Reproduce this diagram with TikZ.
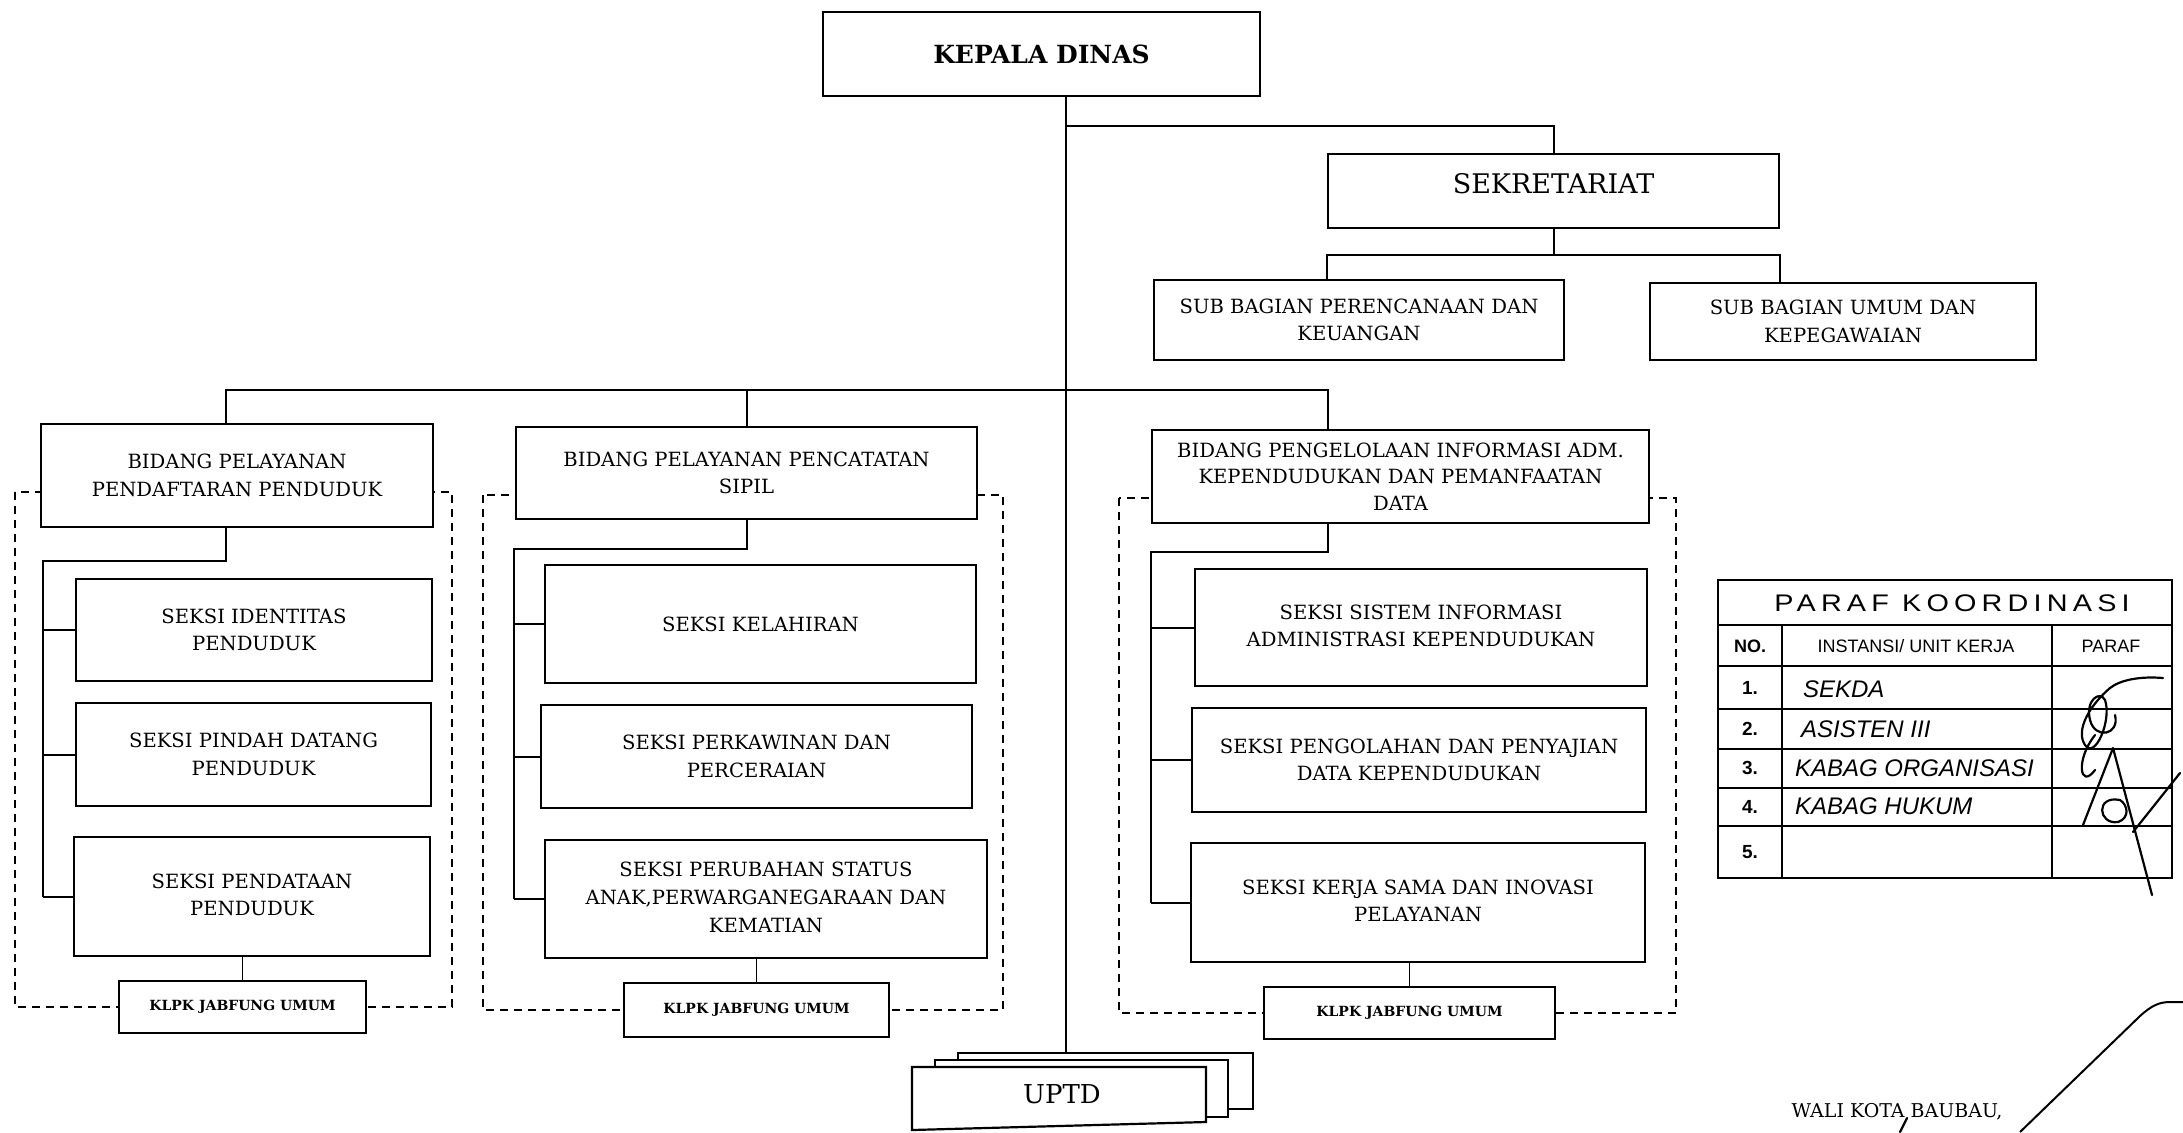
\documentclass[tikz,border=0pt]{standalone}
\usepackage{fontspec}
\setmainfont{DejaVu Serif}
\newfontfamily\tabfont{Liberation Sans}
\newfontfamily\titlefont[LetterSpace=18]{Liberation Sans}
\usetikzlibrary{backgrounds}
\newcommand\bodyfont{\fontsize{9.8}{13.8}\selectfont}
\newcommand\handfont{\tabfont\itshape\fontsize{12}{12}\selectfont}
\newcommand\up[2]{\raisebox{#1}{\begin{tabular}{@{}c@{}}#2\end{tabular}}}
\newcommand\mkbox[7]{\node[box,#2,minimum width={(#5-#3)*0.5pt},minimum height={(#6-#4)*0.5pt}] (#1) at ({(#3+#5)/2},{(#4+#6)/2}) {#7};}
\begin{document}
\begin{tikzpicture}[x=0.5pt,y=-0.5pt,
 box/.style={draw,line width=1.1pt,fill=white,inner sep=0pt,align=center,font=\bodyfont},
 klpk/.style={font={\fontsize{7}{8}\selectfont\bfseries}},
 conn/.style={line width=1pt},
 thinconn/.style={line width=0.6pt},
 grp/.style={dash pattern=on 4pt off 3pt,line width=0.9pt},
 tline/.style={line width=0.8pt},
 sig/.style={line width=1.1pt,line cap=round,line join=round},
]
\useasboundingbox (0,0) rectangle (2183,1132);

% top
\mkbox{kd}{font={\fontsize{12.5}{15}\selectfont\bfseries}}{823}{12}{1260}{96}{KEPALA DINAS}
\mkbox{sek}{font={\fontsize{13.5}{16}\selectfont}}{1328}{154}{1779}{228}{\up{8pt}{SEKRETARIAT}}
\mkbox{sub1}{}{1154}{280}{1564}{360}{SUB BAGIAN PERENCANAAN DAN\\KEUANGAN}
\mkbox{sub2}{}{1650}{283}{2036}{360}{SUB BAGIAN UMUM DAN\\KEPEGAWAIAN}

% column 1
\mkbox{bid1}{}{41}{424}{433}{527}{BIDANG PELAYANAN\\PENDAFTARAN PENDUDUK}
\mkbox{s11}{}{76}{579}{432}{681}{SEKSI IDENTITAS\\PENDUDUK}
\mkbox{s12}{}{76}{703}{431}{806}{SEKSI PINDAH DATANG\\PENDUDUK}
\mkbox{s13}{}{74}{837}{430}{956}{\up{6pt}{SEKSI PENDATAAN\\PENDUDUK}}
\mkbox{k1}{klpk}{119}{981}{366}{1033}{KLPK JABFUNG UMUM}

% column 2
\mkbox{bid2}{}{516}{427}{977}{519}{BIDANG PELAYANAN PENCATATAN\\SIPIL}
\mkbox{s21}{}{545}{565}{976}{683}{SEKSI KELAHIRAN}
\mkbox{s22}{}{541}{705}{972}{808}{SEKSI PERKAWINAN DAN\\PERCERAIAN}
\mkbox{s23}{}{545}{840}{987}{958}{\up{6pt}{SEKSI PERUBAHAN STATUS\\ANAK,PERWARGANEGARAAN DAN\\KEMATIAN}}
\mkbox{k2}{klpk}{624}{983}{889}{1037}{KLPK JABFUNG UMUM}

% column 3
\mkbox{bid3}{font={\fontsize{9.8}{13.2}\selectfont}}{1152}{430}{1649}{523}{BIDANG PENGELOLAAN INFORMASI ADM.\\KEPENDUDUKAN DAN PEMANFAATAN\\DATA}
\mkbox{s31}{}{1195}{569}{1647}{686}{\up{4pt}{SEKSI SISTEM INFORMASI\\ADMINISTRASI KEPENDUDUKAN}}
\mkbox{s32}{}{1192}{708}{1646}{812}{SEKSI PENGOLAHAN DAN PENYAJIAN\\DATA KEPENDUDUKAN}
\mkbox{s33}{}{1191}{843}{1645}{962}{\up{6pt}{SEKSI KERJA SAMA DAN INOVASI\\PELAYANAN}}
\mkbox{k3}{klpk}{1264}{987}{1555}{1039}{KLPK JABFUNG UMUM}

% UPTD stack
\mkbox{up3}{line width=1pt}{958}{1053}{1253}{1109}{}
\mkbox{up2}{line width=1pt}{935}{1060}{1228}{1117}{}
\draw[line width=1.1pt,fill=white] (912,1067) -- (1206,1067) -- (1206,1122) -- (912,1130) -- cycle;
\node[font={\fontsize{13}{15}\selectfont}] (uptd) at (1062,1094) {UPTD};

\begin{pgfonlayer}{background}
 \draw[grp] (15,492) rectangle (452,1007);
 \draw[grp] (483,495) rectangle (1003,1010);
 \draw[grp] (1119,498) rectangle (1676,1013);
 \coordinate (vx) at (1066,126);
 \draw[thinconn] (kd.south -| vx) -- (up3.north -| vx);
 \draw[conn] (vx) -| (sek.north);
 \draw[conn] (sek.south) -- (sek.south |- 0,255);
 \draw[conn] (sub1.north -| sek.south west) |- (sek.south east |- 0,255) -- (sub2.north -| sek.south east);
 \coordinate (bL) at (226,390);
 \coordinate (bR) at (1328,390);
 \draw[conn] (bid1.north -| bL) -- (bL) -- (bR) -- (bid3.north -| bR);
 \draw[conn] (bid2.north) -- (bid2.north |- bL);
 \coordinate (t1) at (43,561);
 \coordinate (t2) at (514,549);
 \coordinate (t3) at (1151,552);
 \draw[conn] (bid1.south -| bL) |- (t1) -- (s13.west -| t1);
 \draw[conn] (bid2.south) |- (t2) -- (s23.west -| t2);
 \draw[conn] (bid3.south -| bR) |- (t3) -- (s33.west -| t3);
 \foreach \s/\t in {s11/t1,s12/t1,s13/t1,s21/t2,s22/t2,s23/t2,s31/t3,s32/t3,s33/t3}
   \draw[conn] (\s.west -| \t) -- (\s.west);
 \draw[thinconn] (k1.north) -- (k1.north |- s13.south);
 \draw[thinconn] (k2.north) -- (k2.north |- s23.south);
 \draw[thinconn] (k3.north) -- (k3.north |- s33.south);
\end{pgfonlayer}

% PARAF KOORDINASI table
\draw[tline] (1718,580) rectangle (2172,878);
\foreach \y in {625,666,709,749,788,826} \draw[tline] (1718,\y) -- (2172,\y);
\draw[tline] (1782,625) -- (1782,878);
\draw[tline] (2052,625) -- (2052,878);
\node[font={\titlefont\fontsize{12}{12}\selectfont}] (ptitle) at (1952,603) {\scalebox{1.2}[1]{PARAF KOORDINASI}};
\node[font={\tabfont\bfseries\fontsize{9}{9}\selectfont}] (hno) at (1750,646) {NO.};
\node[font={\tabfont\fontsize{9}{9}\selectfont}] (hins) at (1916,646) {INSTANSI/ UNIT KERJA};
\node[font={\tabfont\fontsize{9}{9}\selectfont}] (hpar) at (2111,646) {PARAF};
\foreach \n/\y in {1/688,2/729,3/768,4/807,5/852}
  \node[font={\tabfont\bfseries\fontsize{9.5}{10}\selectfont}] (no\n) at (1750,\y) {\n.};
\node[anchor=west,font=\handfont] (h1) at (1796,689) {SEKDA};
\node[anchor=west,font=\handfont] (h2) at (1794,729) {ASISTEN III};
\node[anchor=west,font=\handfont] (h3) at (1788,768) {KABAG ORGANISASI};
\node[anchor=west,font=\handfont] (h4) at (1788,806) {KABAG HUKUM};

% signatures
\draw[sig] (2163,678) .. controls (2140,676) and (2120,680) .. (2110,688)
  .. controls (2090,705) and (2075,730) .. (2085,745)
  .. controls (2095,760) and (2112,720) .. (2105,700)
  .. controls (2100,690) and (2085,700) .. (2090,720)
  .. controls (2095,740) and (2120,735) .. (2115,715);
\draw[sig] (2095,735) .. controls (2075,760) and (2080,790) .. (2095,770);
\draw[sig] (2083,825) -- (2113,748) -- (2152,895);
\draw[sig] (2133,832) -- (2180,773);
\draw[sig] (2120,800) .. controls (2095,795) and (2098,825) .. (2118,822) .. controls (2130,818) and (2128,805) .. (2120,800);

% WALI KOTA
\node[font={\fontsize{9.5}{11}\selectfont}] (wali) at (1897,1112) {WALI KOTA BAUBAU,};
\draw[sig] (1900,1132) -- (1907,1118);
\draw[line width=1pt] (2020,1132) -- (2140,1016) .. controls (2152,1005) and (2160,1002) .. (2170,1002) -- (2183,1002);
\end{tikzpicture}
\end{document}
